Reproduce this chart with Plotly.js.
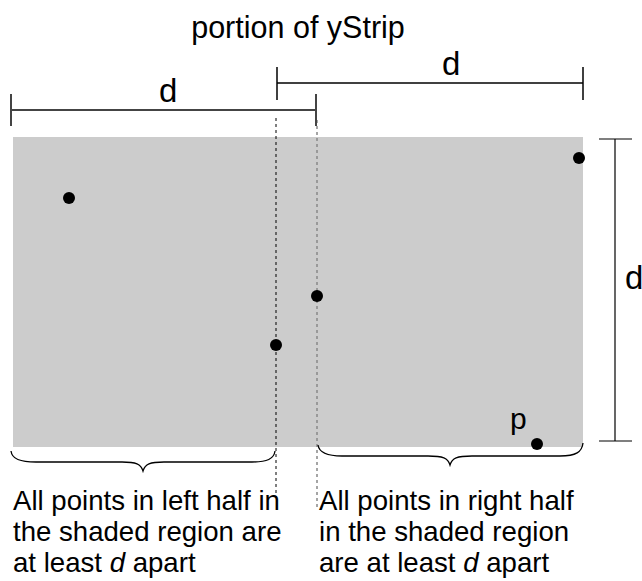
<!DOCTYPE html>
<html>
<head>
<meta charset="utf-8">
<script src="https://cdn.plot.ly/plotly-3.0.1.min.js"></script>
<style>html,body{margin:0;padding:0;background:#fff;}#chart{width:642px;height:581px;}</style>
</head>
<body>
<div id="chart"></div>
<script>
// Point positions (diagram units: pixels on a 642 x 581 canvas, y downward)
const pointsX = [69, 276, 317, 579, 537];
const pointsY = [198, 345, 296, 158, 444];

const titleText = "portion of yStrip";
const distanceLabel = "d";
const pointLabel = "p";
const leftLines = ["All points in left half in", "the shaded region are", "at least <i>d</i> apart"];
const rightLines = ["All points in right half", "in the shaded region", "are at least <i>d</i> apart"];

const FONT = "Liberation Sans, Arial, sans-serif";

const trace = {
  x: pointsX, y: pointsY, type: "scatter", mode: "markers",
  marker: {color: "#000", size: 12}, hoverinfo: "skip", cliponaxis: false
};

const shapes = [
  // shaded strip
  {type: "rect", x0: 13, x1: 583, y0: 137, y1: 447, fillcolor: "#cccccc", line: {width: 0}, layer: "below"},
  // dividing dotted lines
  {type: "line", x0: 276, x1: 276, y0: 118, y1: 497, line: {color: "#000", width: 1, dash: "dot"}, layer: "below"},
  {type: "line", x0: 317, x1: 317, y0: 120, y1: 507, line: {color: "#888", width: 1.5, dash: "dot"}, layer: "below"},
  // left d bracket
  {type: "line", x0: 11, x1: 316, y0: 110, y1: 110, line: {color: "#444", width: 2}},
  {type: "line", x0: 11, x1: 11, y0: 94, y1: 126, line: {color: "#444", width: 2}},
  {type: "line", x0: 316, x1: 316, y0: 94, y1: 126, line: {color: "#444", width: 2}},
  // right d bracket
  {type: "line", x0: 277, x1: 583, y0: 83, y1: 83, line: {color: "#000", width: 1.5}},
  {type: "line", x0: 277, x1: 277, y0: 67, y1: 100, line: {color: "#000", width: 1.5}},
  {type: "line", x0: 583, x1: 583, y0: 67, y1: 100, line: {color: "#000", width: 1.5}},
  // vertical d bracket
  {type: "line", x0: 615, x1: 615, y0: 139, y1: 441, line: {color: "#000", width: 1.2}},
  {type: "line", x0: 599, x1: 632, y0: 139, y1: 139, line: {color: "#000", width: 1.2}},
  {type: "line", x0: 599, x1: 632, y0: 441, y1: 441, line: {color: "#000", width: 1.2}},
  // left curly brace
  {type: "path", path: "M 11 451 C 12 459, 20 462, 36 462 L 122 462 C 136 462, 141 464, 143 471 C 145 464, 150 462, 164 462 L 252 462 C 267 462, 274 459, 275 451",
   line: {color: "#000", width: 1.3}},
  // right curly brace
  {type: "path", path: "M 318 445 C 319 452, 326 456, 342 456 L 428 456 C 443 456, 448 458, 450 465 C 452 458, 457 456, 472 456 L 560 456 C 576 456, 582 452, 583 443",
   line: {color: "#000", width: 1.3}}
];

const annotations = [
  {x: 168, y: 90, text: distanceLabel, font: {size: 33}},
  {x: 451, y: 63, text: distanceLabel, font: {size: 33}},
  {x: 634, y: 277, text: distanceLabel, font: {size: 33}},
  {x: 518, y: 418, text: pointLabel, font: {size: 30}}
];
leftLines.forEach((t, i) => annotations.push({x: 11, y: 500 + i * 31, text: t, xanchor: "left", font: {size: 27.6}}));
rightLines.forEach((t, i) => annotations.push({x: 317, y: 500 + i * 31, text: t, xanchor: "left", font: {size: 27.6}}));
annotations.forEach(a => {
  a.xref = "x"; a.yref = "y"; a.showarrow = false;
  if (!a.xanchor) a.xanchor = "center";
  a.yanchor = "middle";
  a.align = "left";
  a.font = Object.assign({family: FONT, color: "#000"}, a.font);
});

const layout = {
  width: 642, height: 581,
  margin: {l: 0, r: 0, t: 0, b: 0},
  paper_bgcolor: "#fff", plot_bgcolor: "#fff",
  showlegend: false,
  title: {text: titleText, x: 298 / 642, xanchor: "center", xref: "paper", y: 1 - 27 / 581, yanchor: "middle", yref: "container",
          font: {family: FONT, size: 30.5, color: "#000"}},
  xaxis: {range: [0, 642], visible: false, fixedrange: true},
  yaxis: {range: [581, 0], visible: false, fixedrange: true},
  shapes: shapes,
  annotations: annotations
};

Plotly.newPlot("chart", [trace], layout, {staticPlot: true, displayModeBar: false});
</script>
</body>
</html>
